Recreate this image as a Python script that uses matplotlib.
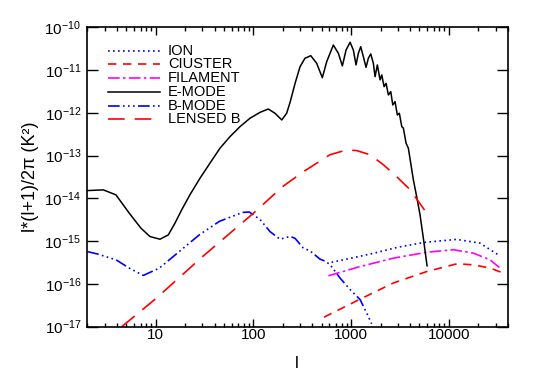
import matplotlib
matplotlib.use("Agg")
import matplotlib.pyplot as plt
from matplotlib.ticker import LogLocator, LogFormatterMathtext, NullFormatter

plt.rcParams["font.family"] = ["Liberation Sans", "DejaVu Sans"]
plt.rcParams["mathtext.fontset"] = "custom"
plt.rcParams["mathtext.rm"] = "Liberation Sans"

# --- data --------------------------------------------------------------------
ion_l = [630, 1000, 1690, 3000, 5500, 12000, 20800, 33400]
ion_c = [3.2e-16, 4.0e-16, 5.2e-16, 7.2e-16, 9.3e-16, 1.1e-15, 9.0e-16, 4.5e-16]

cluster_l = [528, 1234, 2700, 5940, 12050, 17800, 26300, 34600]
cluster_c = [1.67e-17, 4.4e-17, 1.05e-16, 1.95e-16, 2.95e-16, 2.8e-16, 2.35e-16, 1.86e-16]

filament_l = [585, 1200, 2700, 5940, 11100, 17800, 26400, 33400]
filament_c = [1.55e-16, 2.5e-16, 4.0e-16, 5.5e-16, 6.3e-16, 5.25e-16, 3.65e-16, 2.35e-16]

emode_l = [1.97, 2.91, 3.92, 5.37, 7.07, 8.74, 11.07, 13.46, 15.76, 18.45, 22.4, 28.4,
           35.9, 45.5, 57.6, 72.9, 92.3, 117, 142, 166, 195, 219, 237, 267, 300, 337,
           386, 444, 507, 562, 657, 740, 813, 887, 975, 1053, 1122, 1185, 1253, 1333,
           1420, 1500, 1587, 1687, 1757, 1854, 1977, 2056, 2173, 2277, 2405, 2543,
           2667, 2813, 2970, 3113, 3296, 3422, 3646, 3848, 4073, 4332, 4690, 5070,
           5510, 5980]
emode_c = [1.52e-14, 1.58e-14, 1.21e-14, 4.5e-15, 2.01e-15, 1.28e-15, 1.11e-15, 1.40e-15,
           2.64e-15, 5.38e-15, 1.21e-14, 2.96e-14, 6.64e-14, 1.49e-13, 2.78e-13, 4.76e-13,
           7.48e-13, 1.03e-12, 1.23e-12, 9.8e-13, 6.83e-13, 9.8e-13, 1.75e-12, 4.92e-12,
           1.20e-11, 1.89e-11, 2.17e-11, 1.44e-11, 6.64e-12, 1.57e-11, 3.85e-11, 2.47e-11,
           1.25e-11, 2.95e-11, 4.47e-11, 2.95e-11, 1.32e-11, 2.47e-11, 3.52e-11, 2.06e-11,
           1.16e-11, 1.89e-11, 2.38e-11, 1.44e-11, 7.0e-12, 1.32e-11, 5.9e-12, 7.7e-12,
           4.1e-12, 4.9e-12, 2.62e-12, 3.13e-12, 1.53e-12, 1.83e-12, 8.9e-13, 9.8e-13,
           4.76e-13, 4.4e-13, 1.95e-13, 1.49e-13, 6.6e-14, 2.7e-14, 1.08e-14, 4.1e-15,
           1.07e-15, 2.65e-16]

bmode_l = [2.0, 2.55, 3.93, 5.37, 7.47, 10.9, 17.4, 27.9, 44.8, 77.6, 90.8, 117, 148,
           187, 237, 266, 324, 380, 480, 560, 630, 770, 980, 1235, 1440, 1620]
bmode_c = [5.7e-16, 5.0e-16, 3.66e-16, 2.34e-16, 1.58e-16, 2.34e-16, 5.7e-16, 1.4e-15,
           2.9e-15, 4.7e-15, 4.8e-15, 3.2e-15, 1.67e-15, 1.11e-15, 1.29e-15, 1.17e-15,
           6.9e-16, 5.9e-16, 3.8e-16, 3.3e-16, 2.55e-16, 1.37e-16, 7.3e-17, 4.3e-17,
           2.1e-17, 1.17e-17]

lensed_l = [4.5, 10, 30, 100, 200, 324, 608, 900, 1140, 1560, 2140, 2930, 4010, 5940]
lensed_c = [1.0e-17, 4.5e-17, 4.3e-16, 4.5e-15, 1.9e-14, 4.2e-14, 1.05e-13, 1.36e-13,
            1.31e-13, 1.05e-13, 6.1e-14, 3.2e-14, 1.6e-14, 4.5e-15]

labels = ["ION", "CIUSTER", "FILAMENT", "E-MODE", "B-MODE", "LENSED B"]
xticks = [10, 100, 1000, 10000]
yticks = [1e-17, 1e-16, 1e-15, 1e-14, 1e-13, 1e-12, 1e-11, 1e-10]

# (x, y, colour, linestyle, width) in legend order
series = [
    (ion_l, ion_c, "blue", (0, (1, 2)), 1.2),
    (cluster_l, cluster_c, "red", (0, (5, 4)), 1.2),
    (filament_l, filament_c, "magenta", (0, (7, 2, 1.5, 2)), 1.2),
    (emode_l, emode_c, "black", "-", 1.1),
    (bmode_l, bmode_c, "blue", (0, (7, 2, 1, 2, 1, 2, 1, 2)), 1.2),
    (lensed_l, lensed_c, "red", (0, (10, 6)), 1.2),
]

# --- plot --------------------------------------------------------------------
fig = plt.figure(figsize=(5.34, 3.82), dpi=100)
ax = fig.add_axes([0.1624, 0.1448, 0.7884, 0.7837])

for (x, y, col, ls, lw), lab in zip(series, labels):
    ax.plot(x, y, color=col, linestyle=ls, lw=lw)

ax.set_xscale("log")
ax.set_yscale("log")
ax.set_xlim(1.97, 40000)
ax.set_ylim(1e-17, 1e-10)

ax.set_xticks(xticks)
ax.xaxis.set_minor_locator(LogLocator(base=10, subs=range(2, 10), numticks=20))
ax.xaxis.set_minor_formatter(NullFormatter())
ax.xaxis.set_major_formatter(plt.FuncFormatter(lambda v, p: f"{int(round(v))}"))
ax.set_yticks(yticks)
ax.yaxis.set_minor_locator(plt.NullLocator())
ax.yaxis.set_major_formatter(LogFormatterMathtext())

ax.tick_params(which="both", direction="in", top=True, right=True, labelsize=11)
ax.tick_params(axis="y", which="major", length=8, width=1, pad=4)
ax.tick_params(axis="x", which="major", length=6, width=1, pad=1)
ax.tick_params(axis="x", which="minor", length=3, width=1)
for s in ax.spines.values():
    s.set_linewidth(1.2)

ax.set_xlabel("l", fontsize=12, labelpad=10)
ax.set_ylabel("l*(l+1)/2π (K²)", fontsize=13, labelpad=4)

# hand-placed legend, IDL style: tight rows, no frame
for i, ((x, y, col, ls, lw), lab) in enumerate(zip(series, labels)):
    yy = 0.922 - i * 0.0458
    ax.plot([0.0506, 0.174], [yy, yy], transform=ax.transAxes,
            color=col, linestyle=ls, lw=lw)
    ax.text(0.193, yy, lab, transform=ax.transAxes, fontsize=10.5,
            ha="left", va="center")

fig.savefig("out.png", dpi=100, facecolor="white")
